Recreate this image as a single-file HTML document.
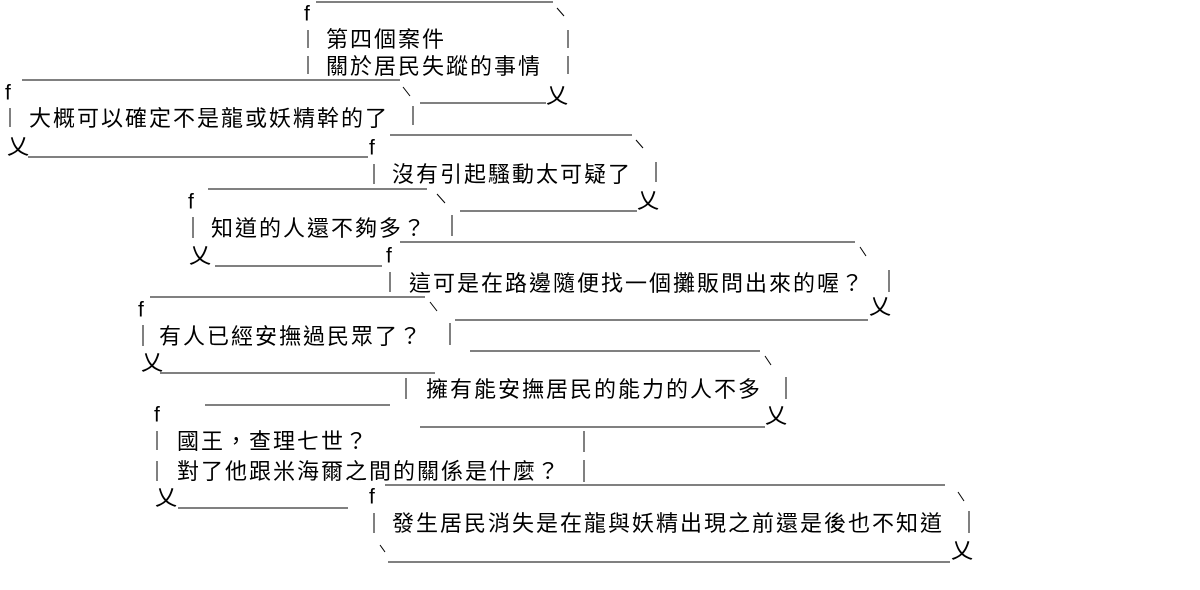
<!DOCTYPE html>
<html><head><meta charset="utf-8"><style>
html,body{margin:0;padding:0;background:#fff;width:1200px;height:590px;overflow:hidden}
svg{display:block}
.t{font-family:"Noto Sans CJK TC","Noto Sans CJK JP",sans-serif;font-size:22px;letter-spacing:2px;fill:#000;dominant-baseline:central}
.f{font-family:"Liberation Sans",sans-serif;font-size:21px;fill:#000;dominant-baseline:central}
.x{font-family:"Noto Sans CJK TC",sans-serif;font-size:22px;fill:#000;dominant-baseline:central}
line,path{stroke:#000;stroke-width:1;fill:none}
</style></head><body>
<svg width="1200" height="590" xmlns="http://www.w3.org/2000/svg">
<!-- bubble 1 -->
<line x1="316" y1="2" x2="553" y2="2"/>
<line x1="557" y1="8" x2="564" y2="16"/>
<text class="f" x="304" y="14">f</text>
<line x1="308" y1="30" x2="308" y2="48"/><line x1="308" y1="56" x2="308" y2="74"/>
<line x1="568" y1="30" x2="568" y2="48"/><line x1="568" y1="56" x2="568" y2="74"/>
<text class="t" x="326" y="38">第四個案件</text>
<text class="t" x="326" y="65">關於居民失蹤的事情</text>
<line x1="420" y1="103" x2="546" y2="103"/>
<text class="x" x="546" y="94">乂</text>
<!-- bubble 2 -->
<line x1="22" y1="80" x2="400" y2="80"/>
<line x1="403" y1="87" x2="410" y2="96"/>
<text class="f" x="5" y="93">f</text>
<line x1="10" y1="108" x2="10" y2="127"/>
<line x1="413" y1="106" x2="413" y2="125"/>
<text class="t" x="29" y="117">大概可以確定不是龍或妖精幹的了</text>
<text class="x" x="7" y="145">乂</text>
<line x1="28" y1="157" x2="368" y2="157"/>
<!-- bubble 3 -->
<line x1="390" y1="135" x2="632" y2="135"/>
<line x1="636" y1="140" x2="643" y2="148"/>
<text class="f" x="369" y="148">f</text>
<line x1="374" y1="164" x2="374" y2="184"/>
<line x1="656" y1="162" x2="656" y2="182"/>
<text class="t" x="392" y="173">沒有引起騷動太可疑了</text>
<line x1="460" y1="211" x2="637" y2="211"/>
<text class="x" x="637" y="199">乂</text>
<!-- bubble 4 -->
<line x1="208" y1="189" x2="427" y2="189"/>
<line x1="437" y1="194" x2="445" y2="203"/>
<text class="f" x="188" y="202">f</text>
<line x1="193" y1="217" x2="193" y2="238"/>
<line x1="452" y1="215" x2="452" y2="236"/>
<text class="t" x="211" y="227">知道的人還不夠多？</text>
<text class="x" x="189" y="254">乂</text>
<line x1="215" y1="266" x2="382" y2="266"/>
<!-- bubble 5 -->
<line x1="400" y1="242" x2="855" y2="242"/>
<line x1="860" y1="247" x2="866" y2="256"/>
<text class="f" x="386" y="256">f</text>
<line x1="390" y1="272" x2="390" y2="292"/>
<line x1="889" y1="270" x2="889" y2="292"/>
<text class="t" x="409" y="282">這可是在路邊隨便找一個攤販問出來的喔？</text>
<line x1="455" y1="320" x2="868" y2="320"/>
<text class="x" x="869" y="305">乂</text>
<!-- bubble 6 -->
<line x1="150" y1="297" x2="425" y2="297"/>
<line x1="430" y1="302" x2="437" y2="311"/>
<text class="f" x="138" y="310">f</text>
<line x1="143" y1="325" x2="143" y2="346"/>
<line x1="450" y1="323" x2="450" y2="345"/>
<text class="t" x="159" y="335">有人已經安撫過民眾了？</text>
<text class="x" x="141" y="361">乂</text>
<line x1="160" y1="373" x2="435" y2="373"/>
<!-- bubble 7 -->
<line x1="470" y1="351" x2="760" y2="351"/>
<line x1="765" y1="356" x2="771" y2="365"/>
<line x1="406" y1="378" x2="406" y2="399"/>
<line x1="786" y1="377" x2="786" y2="399"/>
<text class="t" x="426" y="388">擁有能安撫居民的能力的人不多</text>
<line x1="420" y1="427" x2="765" y2="427"/>
<text class="x" x="765" y="414">乂</text>
<!-- bubble 8 -->
<line x1="205" y1="405" x2="390" y2="405"/>
<text class="f" x="154" y="415">f</text>
<line x1="157" y1="431" x2="157" y2="450"/><line x1="157" y1="461" x2="157" y2="481"/>
<line x1="584" y1="431" x2="584" y2="452"/><line x1="584" y1="460" x2="584" y2="482"/>
<text class="t" x="177" y="440">國王，查理七世？</text>
<text class="t" x="177" y="470">對了他跟米海爾之間的關係是什麼？</text>
<text class="x" x="155" y="496">乂</text>
<line x1="178" y1="508" x2="348" y2="508"/>
<!-- bubble 9 -->
<line x1="385" y1="485" x2="945" y2="485"/>
<line x1="958" y1="492" x2="964" y2="501"/>
<text class="f" x="369" y="497">f</text>
<line x1="374" y1="513" x2="374" y2="533"/>
<line x1="969" y1="511" x2="969" y2="533"/>
<text class="t" x="392" y="522">發生居民消失是在龍與妖精出現之前還是後也不知道</text>
<line x1="380" y1="545" x2="385" y2="552"/>
<line x1="388" y1="562" x2="950" y2="562"/>
<text class="x" x="951" y="549">乂</text>
</svg>
</body></html>
